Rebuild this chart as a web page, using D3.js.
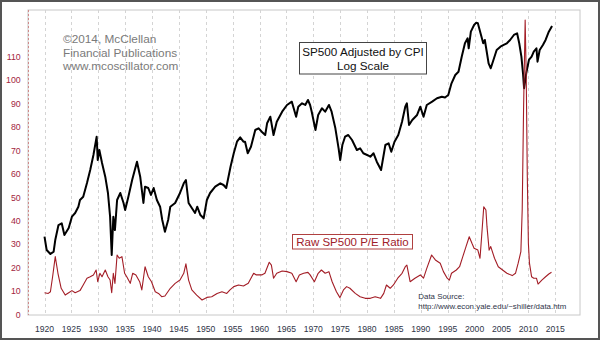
<!DOCTYPE html>
<html><head><meta charset="utf-8">
<script src="https://cdn.jsdelivr.net/npm/d3@7"></script>
<style>body{margin:0;background:#fff}svg{display:block}text{font-family:"Liberation Sans",Arial,sans-serif}</style>
</head><body><svg id="c" width="600" height="340"></svg>
<script>
// ---- data ----
const tickYears = [1920,1925,1930,1935,1940,1945,1950,1955,1960,1965,1970,1975,1980,1985,1990,1995,2000,2005,2010,2015];
const peTicks = [0,10,20,30,40,50,60,70,80,90,100,110];

// SP500 adjusted by CPI (real price, log scale)
const spYears = [1920.0,1920.4,1921.1,1921.7,1922.0,1922.6,1923.2,1923.7,1924.5,1925.1,1925.7,1926.3,1926.6,1927.2,1927.9,1928.5,1929.1,1929.7,1929.9,1930.2,1930.7,1931.3,1931.8,1932.2,1932.5,1932.8,1933.1,1933.5,1934.1,1934.7,1935.0,1935.6,1936.3,1937.2,1937.8,1938.4,1938.7,1939.3,1939.8,1940.3,1940.9,1941.5,1941.9,1942.4,1943.0,1943.4,1944.3,1945.2,1945.9,1946.3,1946.8,1947.4,1948.0,1948.4,1949.0,1949.6,1950.2,1950.8,1951.75,1952.7,1953.3,1953.8,1954.6,1955.2,1955.8,1956.4,1957.0,1957.3,1957.8,1958.4,1959.2,1959.8,1960.4,1961.05,1961.4,1962.0,1962.6,1963.2,1964.2,1965.1,1966.0,1966.8,1967.2,1967.9,1968.5,1969.0,1969.4,1969.7,1970.4,1970.9,1971.6,1972.2,1972.9,1973.4,1974.1,1974.7,1975.0,1975.4,1975.9,1976.5,1977.2,1978.1,1978.7,1979.3,1980.0,1980.6,1981.2,1981.8,1982.6,1983.4,1984.0,1984.5,1985.1,1985.8,1986.5,1987.1,1987.4,1987.8,1988.4,1989.3,1989.9,1990.5,1991.1,1992.1,1993.0,1993.9,1994.5,1995.1,1995.7,1996.4,1997.0,1997.6,1998.2,1998.7,1998.9,1999.3,1999.9,2000.3,2000.6,2001.1,2001.6,2001.9,2002.2,2002.6,2003.0,2003.5,2004.1,2004.8,2005.4,2006.0,2006.6,2007.3,2007.9,2008.3,2008.7,2009.0,2009.2,2009.6,2010.1,2010.6,2011.0,2011.5,2011.7,2012.1,2012.7,2013.2,2013.8,2014.4];
const spValues = [109.2,91.0,86.1,88.9,104.3,128.1,131.1,111.7,123.0,143.6,151.0,164.6,180.5,188.8,227.8,272.2,334.3,429.5,312.1,357.9,299.6,248.3,198.6,143.6,84.9,143.6,119.6,180.5,198.6,173.2,157.3,188.8,237.3,305.0,248.3,173.2,216.5,212.7,193.3,212.7,180.5,164.6,137.2,116.9,137.2,164.6,173.2,198.6,226.8,237.3,173.2,161.7,151.0,164.6,146.9,140.4,180.5,198.6,216.5,226.8,221.6,212.7,284.8,342.2,401.1,426.0,401.1,401.1,342.2,374.5,470.8,481.9,460.0,439.6,516.1,564.9,439.6,527.5,605.0,663.1,693.8,564.9,647.8,678.8,663.1,710.1,663.1,605.0,470.8,578.3,633.7,605.0,663.1,605.0,481.9,366.4,312.1,383.3,429.5,439.6,410.6,357.9,366.4,342.2,334.3,326.6,342.2,305.0,272.2,383.3,392.4,349.7,401.1,439.6,527.5,647.8,678.8,504.2,539.9,578.3,647.8,564.9,663.1,693.8,726.8,742.9,735.0,760.4,892.6,1000.0,1046.3,1285.2,1544.1,1653.6,1441.9,1810.0,1983.9,2047.4,2030.5,1770.7,1544.1,1615.5,1408.7,1173.8,1096.1,1228.2,1408.7,1473.8,1508.5,1544.1,1615.5,1729.9,1770.7,1544.1,1285.2,1023.6,833.4,1023.6,1228.2,1285.2,1376.1,1441.9,1199.9,1408.7,1508.5,1615.5,1810.0,1957.0];

// Raw SP500 P/E ratio
const peYears = [1920.0,1920.7,1921.1,1921.5,1922.0,1922.5,1923.1,1923.85,1924.5,1925.1,1925.7,1926.6,1927.2,1927.9,1928.5,1929.1,1929.6,1929.9,1930.3,1930.7,1931.3,1931.8,1932.2,1932.5,1932.8,1933.1,1933.5,1933.9,1934.4,1934.9,1935.3,1935.95,1936.4,1937.0,1937.7,1938.1,1938.7,1939.3,1939.9,1940.6,1941.2,1941.8,1942.4,1943.4,1944.3,1945.2,1945.9,1946.3,1946.8,1947.4,1948.3,1949.3,1950.2,1951.1,1952.1,1953.0,1953.9,1954.5,1955.2,1956.1,1957.0,1957.9,1958.9,1959.4,1960.4,1961.0,1961.8,1962.2,1962.6,1963.2,1964.2,1965.1,1966.0,1966.8,1967.4,1968.2,1969.0,1969.4,1970.2,1970.9,1971.5,1972.2,1972.9,1973.5,1974.3,1974.95,1975.6,1976.2,1976.8,1977.8,1978.7,1979.65,1980.6,1981.5,1982.5,1983.1,1983.6,1984.3,1984.9,1985.7,1986.5,1987.1,1987.4,1988.0,1988.9,1989.9,1990.5,1991.1,1992.0,1992.7,1993.6,1994.2,1994.9,1995.3,1995.7,1996.6,1997.2,1997.8,1998.4,1999.0,1999.5,1999.9,2000.6,2001.0,2001.3,2001.7,2002.1,2002.3,2002.7,2003.0,2003.7,2004.4,2005.2,2006.0,2007.0,2007.6,2008.1,2008.6,2008.85,2009.1,2009.4,2009.6,2009.8,2010.0,2010.2,2010.6,2011.0,2011.5,2011.8,2012.5,2013.2,2013.8,2014.3];
const peValues = [9.3,9.0,9.7,16.0,24.7,17.6,11.2,8.3,9.3,10.2,9.3,10.2,12.6,15.5,16.1,16.9,19.0,14.0,17.6,16.1,19.0,16.1,14.7,9.3,17.6,13.3,25.4,24.0,24.7,17.6,16.1,13.3,17.6,16.9,14.0,10.5,20.4,16.1,14.0,9.7,9.0,7.6,7.9,11.2,13.3,14.7,17.6,21.6,14.7,10.5,8.3,6.2,7.3,7.6,9.0,9.7,9.0,10.5,11.9,12.6,12.2,13.3,17.6,16.9,16.9,17.6,22.3,21.1,15.5,17.6,18.6,18.3,17.6,14.0,16.9,17.6,18.0,16.9,14.0,17.6,19.0,17.6,18.3,14.0,9.7,7.2,10.5,11.9,11.2,9.0,7.6,6.9,6.9,7.6,6.9,9.0,12.6,11.2,12.6,15.5,17.6,20.4,21.1,14.0,15.5,16.9,15.5,19.7,25.4,23.3,21.9,18.3,15.5,14.7,17.6,19.0,20.4,24.7,29.0,33.2,30.4,28.3,27.5,24.0,33.2,46.0,44.6,37.5,27.5,29.0,24.0,20.4,19.0,17.6,16.6,17.6,21.9,26.8,44.6,87.0,125.7,101.5,58.8,30.4,21.9,16.1,15.5,15.5,13.0,14.7,16.1,17.3,18.0];

const copyright = ["\u00a92014, McClellan","Financial Publications","www.mcoscillator.com"];
const titleLines = ["SP500 Adjusted by CPI","Log Scale"];
const peLabel = "Raw SP500 P/E Ratio";
const sourceLines = ["Data Source:","http://www.econ.yale.edu/~shiller/data.htm"];

// ---- chart ----
const svg = d3.select("#c");
const x = d3.scaleLinear().domain([1916.93, 2019.6]).range([28, 580]);
const yPE = d3.scaleLinear().domain([0, 130]).range([314.5, 10]);
const ySP = d3.scaleLog().domain([37.6, 2436]).range([314.5, 10]);

svg.append("rect").attr("x",0).attr("y",0).attr("width",600).attr("height",340).attr("fill","#fff");

// plot frame
svg.append("rect").attr("x",x.range()[0]).attr("y",yPE.range()[1])
  .attr("width",x.range()[1]-x.range()[0]).attr("height",yPE.range()[0]-yPE.range()[1]+0.5)
  .attr("fill","none").attr("stroke","#c8c8c8").attr("stroke-width",1);

// vertical grid
svg.append("g").selectAll("line").data(tickYears).join("line")
  .attr("x1",d=>Math.round(x(d))+0.5).attr("x2",d=>Math.round(x(d))+0.5)
  .attr("y1",yPE.range()[1]).attr("y2",yPE.range()[0])
  .attr("stroke","#d4d4d4").attr("stroke-dasharray","3,3");

// left axis (dashed red)
svg.append("line").attr("x1",28.5).attr("x2",28.5).attr("y1",yPE.range()[1]).attr("y2",yPE.range()[0]+0.5)
  .attr("stroke","#d08a8a").attr("stroke-dasharray","2,2");

// y labels
svg.append("g").selectAll("text").data(peTicks).join("text")
  .attr("x",20.7).attr("y",d=>yPE(d)+3.2).attr("text-anchor","end")
  .attr("font-size","8.8px").attr("fill","#a3263e").text(d=>d);

// x labels
svg.append("g").selectAll("text").data(tickYears).join("text")
  .attr("x",d=>x(d)).attr("y",331.7).attr("text-anchor","middle")
  .attr("font-size","8.6px").attr("fill","#2e3448").text(d=>d);

// lines
const spLine = d3.line().x((d,i)=>x(spYears[i])).y(d=>ySP(d));
svg.append("path").attr("d",spLine(spValues)).attr("fill","none")
  .attr("stroke","#000").attr("stroke-width",2).attr("stroke-linejoin","round");

const peLine = d3.line().x((d,i)=>x(peYears[i])).y(d=>yPE(d));
svg.append("path").attr("d",peLine(peValues)).attr("fill","none")
  .attr("stroke","#a31d26").attr("stroke-width",1.1).attr("stroke-linejoin","round");

// copyright
svg.append("g").selectAll("text").data(copyright).join("text")
  .attr("x",63).attr("y",(d,i)=>43.3+i*13.4)
  .attr("font-size","11.8px").attr("fill","#7a7a7a").text(d=>d);

// title box
svg.append("rect").attr("x",299.5).attr("y",42.5).attr("width",127).attr("height",31.5)
  .attr("fill","#fff").attr("stroke","#444");
svg.append("g").selectAll("text").data(titleLines).join("text")
  .attr("x",363).attr("y",(d,i)=>56+i*14).attr("text-anchor","middle")
  .attr("font-size","11.7px").attr("fill","#111").text(d=>d);

// PE label box
svg.append("rect").attr("x",292.5).attr("y",234.5).attr("width",120).attr("height",14.5)
  .attr("fill","#fff").attr("stroke","#b04040");
svg.append("text").attr("x",352.5).attr("y",246.3).attr("text-anchor","middle")
  .attr("font-size","11.5px").attr("fill","#a0202a").text(peLabel);

// data source
svg.append("g").selectAll("text").data(sourceLines).join("text")
  .attr("x",418.3).attr("y",(d,i)=>299.3+i*10)
  .attr("font-size","7.9px").attr("fill","#2e3448").text(d=>d);

// outer border
svg.append("rect").attr("x",1).attr("y",1).attr("width",598).attr("height",338)
  .attr("fill","none").attr("stroke","#555").attr("stroke-width",2);
</script></body></html>
